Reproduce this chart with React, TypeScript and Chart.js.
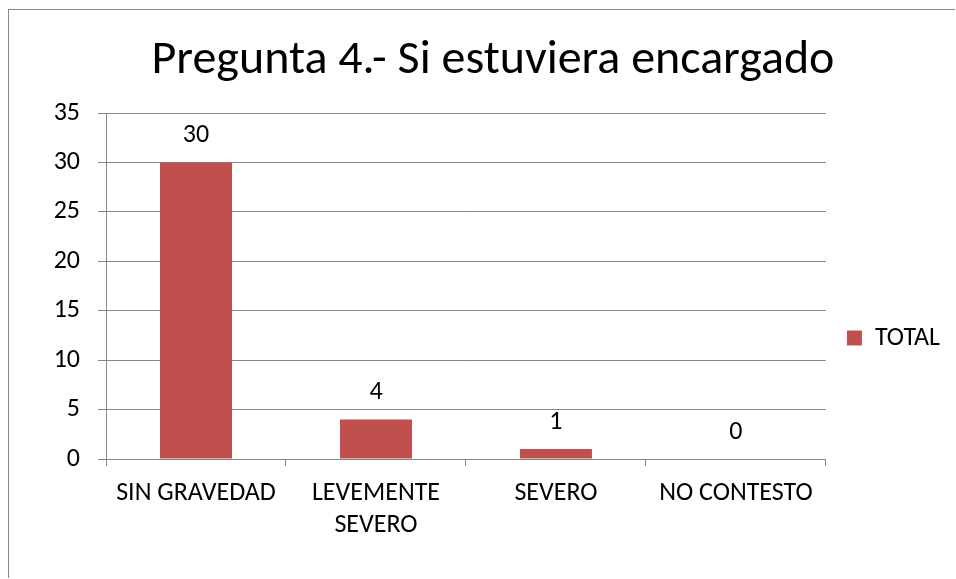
import React, { useEffect, useRef } from "react";
import { Chart, registerables } from "chart.js";

Chart.register(...registerables);

// ---- data ----
const categories: string[][] = [["SIN GRAVEDAD"], ["LEVEMENTE", "SEVERO"], ["SEVERO"], ["NO CONTESTO"]];
const totals: number[] = [30, 4, 1, 0];
const seriesName = "TOTAL";
const chartTitle = "Pregunta 4.- Si estuviera encargado";
const yMin = 0;
const yMax = 35;
const yStep = 5;

const FONT = "Carlito, Calibri, Lato, sans-serif";
const BAR_COLOR = "#C0504D";
const GRID_COLOR = "#868686";
const FS = 26;

const valueLabels = {
  id: "valueLabels",
  afterDatasetsDraw(chart: any) {
    const ctx = chart.ctx;
    const meta = chart.getDatasetMeta(0);
    const data = chart.data.datasets[0].data;
    ctx.save();
    ctx.font = `${FS}px ${FONT}`;
    ctx.fillStyle = "#000";
    ctx.textAlign = "center";
    ctx.textBaseline = "middle";
    meta.data.forEach((el: any, i: number) => {
      ctx.fillText(String(data[i]), el.x, el.y - 27);
    });
    ctx.restore();
  },
};

export default function App() {
  const ref = useRef<HTMLCanvasElement | null>(null);

  useEffect(() => {
    if (!ref.current) return;
    const chart = new Chart(ref.current, {
      type: "bar",
      data: {
        labels: categories as any,
        datasets: [
          {
            label: seriesName,
            data: totals,
            backgroundColor: BAR_COLOR,
            borderWidth: 0,
            categoryPercentage: 1,
            barPercentage: 0.4,
          },
        ],
      },
      options: {
        animation: false,
        responsive: false,
        devicePixelRatio: 1,
        layout: { padding: { top: 0, left: 36, right: 6, bottom: 0 } },
        scales: {
          x: {
            grid: {
              display: true,
              drawOnChartArea: false,
              drawTicks: true,
              tickLength: 7,
              color: GRID_COLOR,
              offset: true,
            },
            border: { color: GRID_COLOR },
            ticks: {
              font: { family: FONT, size: FS, lineHeight: 1.21 },
              color: "#000",
              padding: 12,
              maxRotation: 0,
              autoSkip: false,
            },
            afterFit: (scale: any) => {
              scale.height = 120;
            },
          },
          y: {
            min: yMin,
            max: yMax,
            grid: { color: GRID_COLOR, tickLength: 8 },
            border: { color: GRID_COLOR },
            ticks: {
              stepSize: yStep,
              font: { family: FONT, size: FS },
              color: "#000",
              padding: 18,
            },
            afterFit: (scale: any) => {
              scale.width = 70;
            },
          },
        },
        plugins: {
          title: {
            display: true,
            text: chartTitle,
            color: "#000",
            font: { family: FONT, size: 48, weight: "normal" as any, lineHeight: 1.2 },
            padding: { top: 32, bottom: 23.4 },
          },
          legend: {
            display: true,
            position: "right",
            maxWidth: 125,
            title: {
              display: true,
              text: " ",
              font: { size: 10, lineHeight: 1 },
              padding: { top: 87, bottom: 0 },
            },
            labels: {
              boxWidth: 15,
              boxHeight: 15,
              padding: 21,
              color: "#000",
              font: { family: FONT, size: FS },
            },
          },
          tooltip: { enabled: false },
        },
      },
      plugins: [valueLabels],
    });
    return () => chart.destroy();
  }, []);

  return (
    <div style={{ position: "absolute", left: 0, top: 0, width: 956, height: 579, background: "#fff" }}>
      <div
        style={{
          position: "absolute",
          left: 8,
          top: 9,
          width: 946,
          height: 568,
          borderLeft: `1.5px solid ${GRID_COLOR}`,
          borderTop: `1.5px solid ${GRID_COLOR}`,
        }}
      />
      <canvas ref={ref} width={956} height={579} style={{ position: "absolute", left: 0, top: 0 }} />
    </div>
  );
}
